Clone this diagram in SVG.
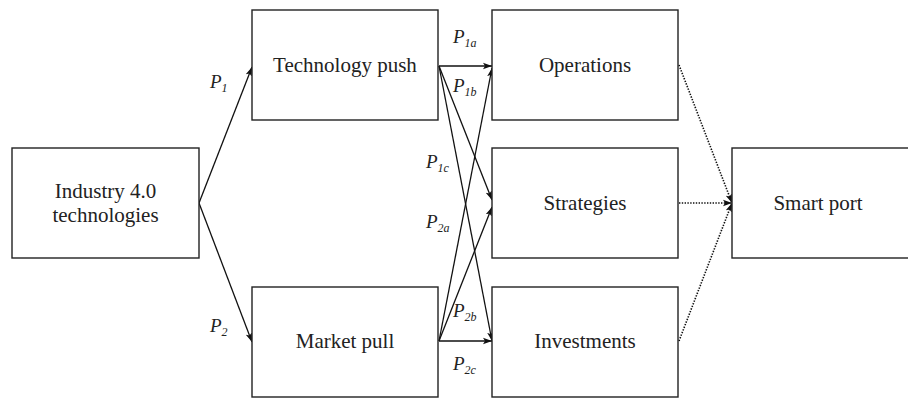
<svg xmlns="http://www.w3.org/2000/svg" width="908" height="399" viewBox="0 0 908 399">
  <style>
    .box { fill: #fff; stroke: #222; stroke-width: 1.4; }
    .lbl { font-family: "Liberation Serif", "Times New Roman", serif; font-size: 21px; fill: #222; text-anchor: middle; }
    .p { font-family: "Liberation Serif", "Times New Roman", serif; font-style: italic; font-size: 19px; fill: #222; }
    .sub { font-size: 12px; }
    .edge { fill: none; stroke: #111; stroke-width: 1.3; marker-end: url(#arr); }
    .dot { fill: none; stroke: #111; stroke-width: 1.6; stroke-dasharray: 1.4 1.4; marker-end: url(#arr); }
  </style>
  <defs>
    <marker id="arr" markerUnits="userSpaceOnUse" markerWidth="10" markerHeight="8" refX="9" refY="4" orient="auto">
      <path d="M0,0.8 L9,4 L0,7.2 L2,4 Z" fill="#111"/>
    </marker>
  </defs>
  <rect width="908" height="399" fill="#fff"/>

  <!-- connectors -->
  <g id="connectors">
    <line class="edge" x1="199" y1="203" x2="252" y2="67"/>
    <line class="edge" x1="199" y1="203" x2="252" y2="342"/>
    <line class="edge" x1="439" y1="66" x2="492" y2="66"/>
    <line class="edge" x1="439" y1="66" x2="492" y2="200"/>
    <line class="edge" x1="439" y1="66" x2="492" y2="341"/>
    <line class="edge" x1="439" y1="341" x2="492" y2="68"/>
    <line class="edge" x1="439" y1="341" x2="492" y2="207"/>
    <line class="edge" x1="439" y1="341" x2="492" y2="341"/>
    <line class="dot" x1="679" y1="65" x2="732" y2="203"/>
    <line class="dot" x1="679" y1="203" x2="732" y2="203"/>
    <line class="dot" x1="679" y1="341" x2="732" y2="203"/>
  </g>

  <!-- connector labels -->
  <g id="edge-labels">
    <text class="p" x="210" y="88">P<tspan class="sub" dy="4">1</tspan></text>
    <text class="p" x="210" y="332">P<tspan class="sub" dy="4">2</tspan></text>
    <text class="p" x="453" y="43">P<tspan class="sub" dy="4">1a</tspan></text>
    <text class="p" x="453" y="92">P<tspan class="sub" dy="4">1b</tspan></text>
    <text class="p" x="426" y="168">P<tspan class="sub" dy="4">1c</tspan></text>
    <text class="p" x="426" y="228">P<tspan class="sub" dy="4">2a</tspan></text>
    <text class="p" x="453" y="317">P<tspan class="sub" dy="4">2b</tspan></text>
    <text class="p" x="453" y="370">P<tspan class="sub" dy="4">2c</tspan></text>
  </g>

  <g id="industry">
    <rect class="box" x="12" y="148" width="187" height="110"/>
    <text class="lbl" x="105.5" y="198">Industry 4.0</text>
    <text class="lbl" x="105.5" y="222">technologies</text>
  </g>
  <g id="tech-push">
    <rect class="box" x="252" y="10" width="186" height="110"/>
    <text class="lbl" x="345" y="72">Technology push</text>
  </g>
  <g id="market-pull">
    <rect class="box" x="252" y="287" width="186" height="110"/>
    <text class="lbl" x="345" y="348">Market pull</text>
  </g>
  <g id="operations">
    <rect class="box" x="492" y="10" width="186" height="110"/>
    <text class="lbl" x="585" y="72">Operations</text>
  </g>
  <g id="strategies">
    <rect class="box" x="492" y="148" width="186" height="110"/>
    <text class="lbl" x="585" y="210">Strategies</text>
  </g>
  <g id="investments">
    <rect class="box" x="492" y="287" width="186" height="110"/>
    <text class="lbl" x="585" y="348">Investments</text>
  </g>
  <g id="smart-port">
    <rect class="box" x="732" y="148" width="200" height="110"/>
    <text class="lbl" x="818" y="210">Smart port</text>
  </g>
</svg>
